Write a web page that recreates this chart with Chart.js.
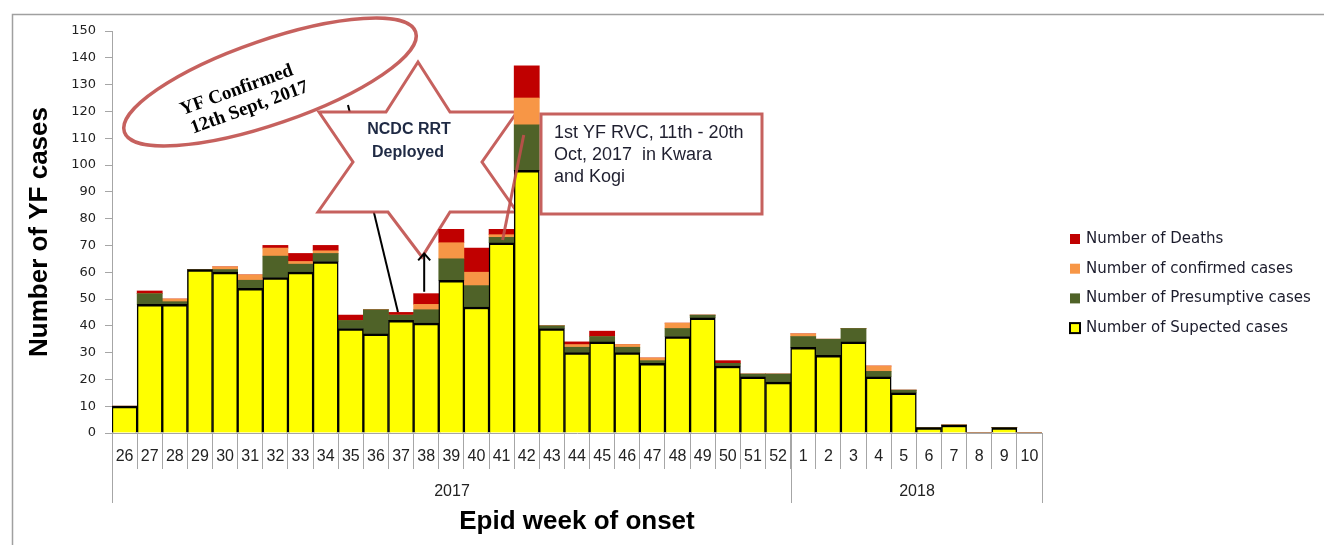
<!DOCTYPE html>
<html>
<head>
<meta charset="utf-8">
<title>YF cases by epid week</title>
<script src="https://cdn.jsdelivr.net/npm/chart.js@4.4.1/dist/chart.umd.min.js"></script>
<style>
  html, body { margin: 0; padding: 0; background: #fff; }
  #wrap { position: relative; width: 1324px; height: 545px; }
</style>
</head>
<body>
<div id="wrap"><canvas id="yfChart"></canvas></div>
<script>
// epid weeks (2017 wk 26 .. 2018 wk 10)
var weeks = ['26','27','28','29','30','31','32','33','34','35','36','37','38','39','40','41','42','43','44','45','46','47','48','49','50','51','52',
             '1','2','3','4','5','6','7','8','9','10'];
var yearLabels = ['2017', '2018'];
var yearSpans = [27, 10];

var suspected   = [10,48,48,61,60,54,58,60,64,39,37,42,41,57,47,71,98,39,30,34,30,26,36,43,25,21,19, 32,29,34,21,15,2,3,0,2,0];
var presumptive = [0,4,1,0,1,3,8,3,3,3,9,2,5,8,8,2,17,1,2,2,2,1,3,1,1,1,3, 4,6,5,2,1,0,0,0,0,0];
var confirmed   = [0,0,1,0,1,2,3,1,1,0,0,0,2,6,5,1,10,0,1,0,1,1,2,0,0,0,0, 1,0,0,2,0,0,0,0,0,0];
var deaths      = [0,1,0,0,0,0,1,3,2,2,0,1,4,5,9,2,12,0,1,2,0,0,0,0,1,0,0, 0,0,0,0,0,0,0,0,0,0];

var seriesNames = ['Number of Supected cases', 'Number of Presumptive cases', 'Number of confirmed cases', 'Number of Deaths'];
var seriesColors = ['#ffff00', '#4f6228', '#f79646', '#c00000'];

var RED = 'rgba(192,80,77,0.9)';

function drawStar(ctx, cx, cy) {
    var p = [[0,-100],[32,-50],[99,-50],[64,0],[99,50],[32,50],[4,95],[-30,50],[-100,50],[-65,0],[-99,-50],[-32,-50]];
    ctx.beginPath();
    p.forEach(function(q, i) {
        if (i === 0) ctx.moveTo(cx + q[0], cy + q[1]); else ctx.lineTo(cx + q[0], cy + q[1]);
    });
    ctx.closePath();
    ctx.fillStyle = '#fff';
    ctx.fill();
    ctx.strokeStyle = RED;
    ctx.lineWidth = 3;
    ctx.lineJoin = 'miter';
    ctx.stroke();
}

var annotations = {
    id: 'annotations',
    beforeDatasetsDraw: function(chart) {
        var ctx = chart.ctx, xs = chart.scales.x, ys = chart.scales.y;
        ctx.save();
        // black line towards wk 37
        ctx.strokeStyle = '#000';
        ctx.lineWidth = 2;
        ctx.beginPath();
        ctx.moveTo(348, 105);
        ctx.lineTo(xs.getPixelForValue(11) - 3, ys.getPixelForValue(45));
        ctx.stroke();

        // oval
        ctx.beginPath();
        ctx.ellipse(270, 82, 154, 42, -19 * Math.PI / 180, 0, Math.PI * 2);
        ctx.fillStyle = '#fff';
        ctx.fill();
        ctx.strokeStyle = RED;
        ctx.lineWidth = 3.5;
        ctx.stroke();

        ctx.save();
        ctx.translate(242, 99);
        ctx.rotate(-20 * Math.PI / 180);
        ctx.fillStyle = '#000';
        ctx.font = 'bold 19px "Liberation Serif"';
        ctx.textAlign = 'center';
        ctx.textBaseline = 'middle';
        ctx.fillText('YF Confirmed', -2, -10);
        ctx.fillText('12th Sept, 2017', 4, 11);
        ctx.restore();

        // star
        drawStar(ctx, 418, 162);
        ctx.fillStyle = '#1f2a44';
        ctx.font = 'bold 16px "Liberation Sans"';
        ctx.textAlign = 'center';
        ctx.textBaseline = 'middle';
        ctx.fillText('NCDC RRT', 409, 130);
        ctx.fillText('Deployed', 408, 153);
        ctx.restore();
    },
    afterDatasetsDraw: function(chart) {
        var ctx = chart.ctx, xs = chart.scales.x, ys = chart.scales.y, area = chart.chartArea;
        ctx.save();

        // arrow up from wk 38
        var ax = xs.getPixelForValue(12) - 2;
        ctx.strokeStyle = '#000';
        ctx.lineWidth = 2;
        ctx.beginPath();
        ctx.moveTo(ax, ys.getPixelForValue(52) - 2);
        ctx.lineTo(ax, ys.getPixelForValue(67));
        ctx.moveTo(ax - 6, ys.getPixelForValue(67) + 7);
        ctx.lineTo(ax, ys.getPixelForValue(67));
        ctx.lineTo(ax + 6, ys.getPixelForValue(67) + 7);
        ctx.stroke();

        // callout box
        ctx.fillStyle = '#fff';
        ctx.fillRect(541, 114, 221, 100);
        ctx.strokeStyle = RED;
        ctx.lineWidth = 3;
        ctx.strokeRect(541, 114, 221, 100);
        ctx.fillStyle = '#1f1f2f';
        ctx.font = '18px "Liberation Sans"';
        ctx.textAlign = 'left';
        ctx.textBaseline = 'middle';
        ctx.fillText('1st YF RVC, 11th - 20th', 554, 133);
        ctx.fillText('Oct, 2017  in Kwara', 554, 155);
        ctx.fillText('and Kogi', 554, 177);

        // leader line
        ctx.strokeStyle = RED;
        ctx.lineWidth = 3;
        ctx.beginPath();
        ctx.moveTo(xs.getPixelForValue(16) - 3, 135);
        ctx.lineTo(xs.getPixelForValue(15) + 1, ys.getPixelForValue(72));
        ctx.stroke();

        // year row under the week labels
        var half = (xs.getPixelForValue(1) - xs.getPixelForValue(0)) / 2;
        var start = 0;
        ctx.strokeStyle = '#a6a6a6';
        ctx.lineWidth = 1;
        ctx.fillStyle = '#222';
        ctx.font = '16px "Liberation Sans"';
        ctx.textAlign = 'center';
        yearLabels.forEach(function(lab, i) {
            var end = start + yearSpans[i] - 1;
            var x0 = Math.round(xs.getPixelForValue(start) - half) + 0.5;
            var x1 = Math.round(xs.getPixelForValue(end) + half) + 0.5;
            ctx.beginPath();
            ctx.moveTo(x0, area.bottom); ctx.lineTo(x0, area.bottom + 70);
            ctx.moveTo(x1, area.bottom); ctx.lineTo(x1, area.bottom + 70);
            ctx.stroke();
            ctx.fillText(lab, (x0 + x1) / 2, area.bottom + 59);
            start += yearSpans[i];
        });

        // legend
        var ds = chart.data.datasets;
        ctx.font = '15px "DejaVu Sans"';
        ctx.textAlign = 'left';
        ctx.textBaseline = 'middle';
        for (var k = 0; k < ds.length; k++) {
            var d = ds[ds.length - 1 - k];
            var ly = 239 + k * 29.7;
            ctx.fillStyle = d.backgroundColor;
            ctx.fillRect(1070, ly - 5, 10, 10);
            if (d.legendBorder) {
                ctx.strokeStyle = '#000';
                ctx.lineWidth = 2;
                ctx.strokeRect(1070, ly - 5, 10, 10);
            }
            ctx.fillStyle = '#1c1c2c';
            ctx.fillText(d.label, 1086, ly);
        }

        // outer frame
        ctx.strokeStyle = '#a0a0a0';
        ctx.lineWidth = 1.5;
        ctx.beginPath();
        ctx.moveTo(12.5, 545);
        ctx.lineTo(12.5, 14.5);
        ctx.lineTo(1324, 14.5);
        ctx.stroke();
        ctx.restore();
    }
};

var ctx = document.getElementById('yfChart');
new Chart(ctx, {
    type: 'bar',
    data: {
        labels: weeks,
        datasets: [{
            label: seriesNames[0],
            data: suspected,
            backgroundColor: seriesColors[0],
            borderColor: '#000',
            borderWidth: { top: 2.5, left: 1.5, right: 1.5, bottom: 0 },
            legendBorder: true
        }, {
            label: seriesNames[1],
            data: presumptive,
            backgroundColor: seriesColors[1],
            borderWidth: 0
        }, {
            label: seriesNames[2],
            data: confirmed,
            backgroundColor: seriesColors[2],
            borderWidth: 0
        }, {
            label: seriesNames[3],
            data: deaths,
            backgroundColor: seriesColors[3],
            borderWidth: 0
        }]
    },
    options: {
        responsive: true,
        maintainAspectRatio: false,
        animation: false,
        datasets: {
            bar: { barPercentage: 1, categoryPercentage: 1 }
        },
        layout: { padding: { top: 31, right: 282, bottom: 0, left: 0 } },
        plugins: {
            legend: { display: false },
            tooltip: { enabled: false }
        },
        scales: {
            x: {
                stacked: true,
                offset: true,
                grid: { display: true, drawOnChartArea: false, drawTicks: true, tickLength: 36, offset: true, color: '#a6a6a6' },
                border: { display: true, color: '#a6a6a6' },
                ticks: {
                    padding: -22,
                    autoSkip: false,
                    maxRotation: 0,
                    color: '#222',
                    font: { family: 'Liberation Sans', size: 16 }
                },
                title: {
                    display: true,
                    text: 'Epid week of onset',
                    color: '#000',
                    font: { family: 'Liberation Sans', size: 26, weight: 'bold' },
                    padding: { top: 0, bottom: 8 }
                },
                afterFit: function(s) { s.height = 112; }
            },
            y: {
                stacked: true,
                min: 0,
                max: 150,
                ticks: {
                    stepSize: 10,
                    padding: 9,
                    color: '#222',
                    font: { family: 'DejaVu Sans', size: 13 }
                },
                grid: { drawOnChartArea: false, tickLength: 7, color: '#a6a6a6' },
                border: { color: '#a6a6a6' },
                title: {
                    display: true,
                    text: 'Number of YF cases',
                    color: '#000',
                    font: { family: 'Liberation Sans', size: 26, weight: 'bold' },
                    padding: { top: 24, bottom: 0 }
                },
                afterFit: function(s) { s.width = 112; }
            }
        }
    },
    plugins: [annotations]
});
</script>
</body>
</html>
